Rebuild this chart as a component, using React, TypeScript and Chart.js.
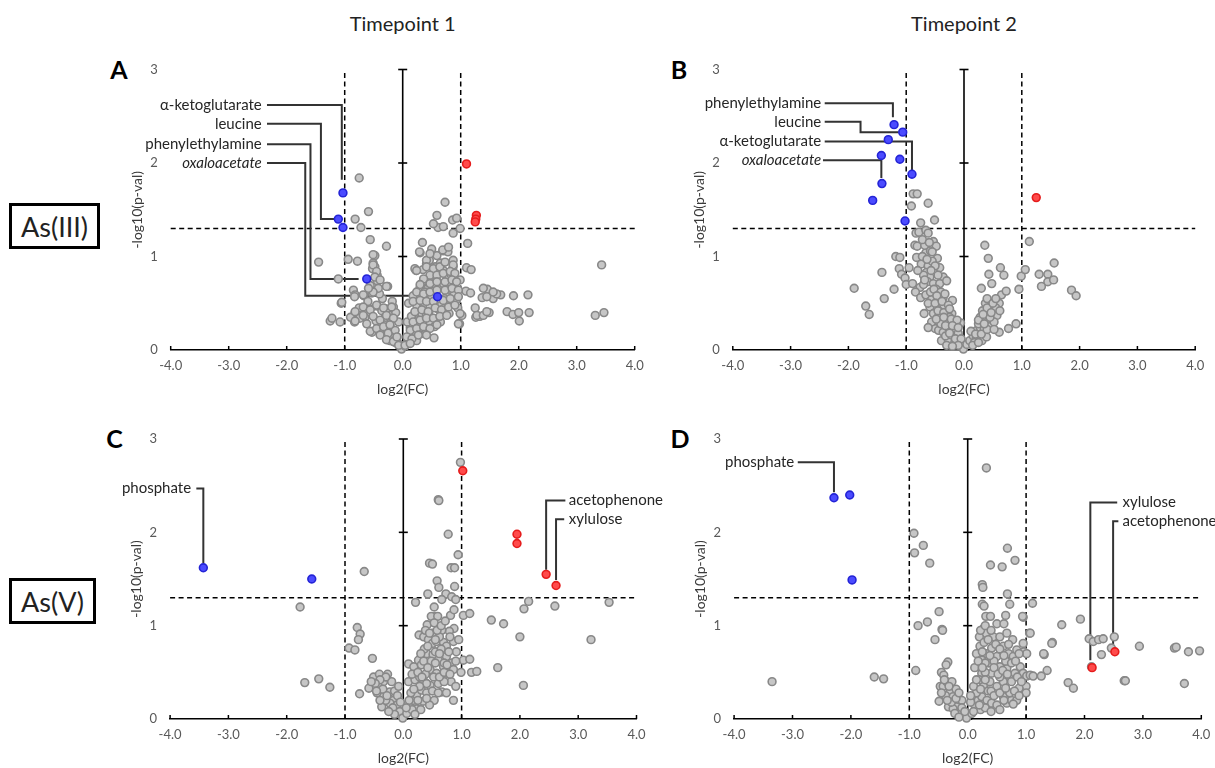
import React, { useEffect, useRef } from "react";
import { Chart, registerables } from "chart.js";

Chart.register(...registerables);

type Pt = [number, number];

const FONT = "Lato, 'Open Sans', 'DejaVu Sans', sans-serif";

// ---------------- data ----------------
const xRange: Pt = [-4, 4];
const yRange: Pt = [0, 3];
const fcCutoffs = [-1, 1];
const pCutoff = 1.3;
const centerTicks = [0, 1, 2, 3];
const xTickValues = [-4, -3, -2, -1, 0, 1, 2, 3, 4];
const xTitle = "log2(FC)";
const yTitle = "-log10(p-val)";
const timepoints = ["Timepoint 1", "Timepoint 2"];
const treatments = ["As(III)", "As(V)"];
const panelLetters = ["A", "B", "C", "D"];

const grayA: Pt[] = [
  [-0.75, 1.84], [-0.59, 1.48], [-0.82, 1.4], [-0.72, 1.31], [-0.56, 1.18], [-0.28, 1.11], [-1.45, 0.94],
  [-0.94, 0.97], [-0.78, 0.95], [-0.48, 1.01], [-0.51, 0.93], [-0.48, 0.89], [-0.46, 0.84], [-0.44, 0.8],
  [-0.52, 0.87], [-1.11, 0.76], [-0.44, 0.74], [-0.26, 0.68], [-0.56, 0.69], [-0.85, 0.64], [-0.82, 0.59],
  [-0.53, 0.61], [-0.67, 0.58], [-1.06, 0.5], [-1.25, 0.31], [-1.08, 0.3], [-0.82, 0.4], [-0.83, 0.3],
  [-0.71, 0.39], [-0.65, 0.35], [-0.53, 0.19], [-0.44, 0.47], [-0.36, 0.42], [-0.56, 0.44], [-0.28, 0.44],
  [-0.22, 0.37], [-0.16, 0.46], [-0.46, 0.31], [-0.33, 0.3], [-0.22, 0.26], [-0.39, 0.21], [-0.28, 0.15],
  [-0.16, 0.21], [-0.1, 0.14], [-0.07, 0.3], [-0.13, 0.08], [-0.22, 0.1], [-0.06, 0.06], [-0.02, 0.01],
  [0.04, 0.04], [0.1, 0.08], [0.16, 0.14], [0.24, 0.1], [0.2, 0.19], [0.3, 0.17], [0.13, 0.24], [0.24, 0.26],
  [0.33, 0.24], [0.41, 0.21], [0.54, 0.13], [0.47, 0.3], [0.59, 0.33], [0.21, 0.39], [0.33, 0.39], [0.41, 0.37],
  [0.24, 0.48], [0.36, 0.46], [0.47, 0.46], [0.61, 0.44], [0.73, 0.42], [0.8, 0.39], [0.67, 0.49], [0.8, 0.5],
  [0.87, 0.6], [0.76, 0.62], [0.67, 0.67], [0.53, 0.71], [0.41, 0.65], [0.3, 0.67], [0.27, 0.56], [0.36, 0.74],
  [0.47, 0.78], [0.59, 0.74], [0.7, 0.71], [0.84, 0.8], [0.7, 0.85], [0.56, 0.89], [0.41, 0.92], [0.46, 0.96],
  [0.59, 1.01], [0.7, 1.06], [0.3, 1.04], [0.34, 1.15], [0.23, 0.85], [0.87, 0.96], [0.87, 0.89], [0.99, 0.75],
  [0.87, 1.25], [0.61, 1.31], [0.53, 1.35], [0.59, 1.44], [0.7, 1.32], [0.73, 1.58], [0.86, 1.39], [0.93, 1.41],
  [0.99, 1.3], [1.12, 1.14], [1.1, 0.88], [1.18, 0.86], [1.09, 0.63], [1.17, 0.61], [0.93, 0.54], [1.02, 0.37],
  [0.98, 0.28], [1.25, 0.45], [1.37, 0.56], [1.46, 0.65], [1.56, 0.55], [1.69, 0.59], [1.62, 0.6], [1.26, 0.35],
  [1.33, 0.36], [1.49, 0.4], [1.8, 0.41], [1.91, 0.58], [1.9, 0.38], [2.0, 0.4], [2.01, 0.31], [2.16, 0.59],
  [2.18, 0.4], [3.43, 0.91], [3.32, 0.37], [3.47, 0.4], [-0.35, 0.55], [-0.3, 0.35], [-0.4, 0.6], [-0.6, 0.52],
  [-0.75, 0.45], [-0.9, 0.35], [-0.18, 0.52], [-0.12, 0.4], [0.08, 0.3], [0.15, 0.36], [0.28, 0.3], [0.38, 0.55],
  [0.5, 0.58], [0.62, 0.55], [0.45, 0.4], [0.55, 0.25], [0.65, 0.3], [0.72, 0.55], [0.8, 0.65], [0.9, 0.7],
  [0.95, 0.45], [0.35, 0.86], [0.5, 1.08], [0.65, 0.93], [0.78, 1.05], [0.38, 0.62], [0.18, 0.58], [0.1, 0.5],
  [-0.51, 1.02], [-0.51, 0.91], [-0.45, 0.84], [-0.48, 0.78], [-0.39, 0.75], [-0.42, 0.66], [-0.28, 0.68],
  [-0.51, 0.62], [-0.59, 0.66], [-0.68, 0.59], [-0.83, 0.57], [-1.05, 0.51], [-1.22, 0.34], [-0.82, 0.41],
  [-0.68, 0.46], [-0.56, 0.43], [-0.45, 0.48], [-0.33, 0.45], [-0.19, 0.46], [-0.74, 0.34], [-0.62, 0.28],
  [-0.51, 0.36], [-0.39, 0.32], [-0.28, 0.37], [-0.16, 0.34], [-0.56, 0.2], [-0.45, 0.23], [-0.33, 0.25],
  [-0.25, 0.18], [-0.13, 0.21], [-0.39, 0.16], [-0.28, 0.11], [-0.16, 0.09], [-0.1, 0.14], [-0.07, 0.05],
  [-0.22, 0.27], [-0.82, 0.31], [-0.68, 0.37], [0.29, 1.05], [0.41, 0.96], [0.47, 1.03], [0.69, 1.07],
  [0.79, 1.1], [0.21, 0.87], [0.24, 0.85], [0.41, 0.89], [0.53, 0.87], [0.64, 0.89], [0.73, 0.94], [0.87, 0.91],
  [0.47, 0.8], [0.59, 0.8], [0.7, 0.82], [0.82, 0.84], [0.9, 0.82], [0.36, 0.76], [0.3, 0.7], [0.47, 0.71],
  [0.59, 0.73], [0.73, 0.73], [0.85, 0.75], [0.93, 0.73], [0.24, 0.62], [0.36, 0.6], [0.47, 0.62], [0.59, 0.64],
  [0.73, 0.64], [0.85, 0.66], [0.96, 0.64], [0.18, 0.52], [0.3, 0.53], [0.41, 0.52], [0.53, 0.52], [0.7, 0.53],
  [0.82, 0.55], [0.96, 0.57], [0.21, 0.41], [0.33, 0.43], [0.44, 0.41], [0.56, 0.45], [0.67, 0.43], [0.79, 0.46],
  [0.9, 0.48], [0.18, 0.3], [0.3, 0.32], [0.41, 0.34], [0.53, 0.34], [0.64, 0.36], [0.76, 0.37], [0.13, 0.21],
  [0.24, 0.23], [0.36, 0.25], [0.47, 0.23], [0.59, 0.27], [0.07, 0.14], [0.16, 0.12], [0.27, 0.16], [0.41, 0.16],
  [0.04, 0.05], [0.13, 0.07], [1.39, 0.66], [1.45, 0.57], [1.56, 0.62], [1.28, 0.37], [1.39, 0.37], [1.45, 0.41],
  [0.99, 0.39], [0.96, 0.28],
];
const blueA: Pt[] = [[-1.03, 1.68], [-1.11, 1.4], [-1.03, 1.31], [-0.62, 0.76], [0.6, 0.57]];
const redA: Pt[] = [[1.1, 1.99], [1.27, 1.44], [1.26, 1.4], [1.25, 1.37]];

const grayB: Pt[] = [
  [-0.88, 1.67], [-0.81, 1.67], [-0.91, 1.54], [-0.62, 1.57], [-0.51, 1.39], [-0.75, 1.36], [-0.83, 1.25],
  [-0.78, 1.26], [-0.66, 1.28], [-0.62, 1.25], [-0.85, 1.12], [-0.81, 1.11], [-0.53, 1.16], [-0.48, 1.11],
  [-0.66, 1.04], [-0.58, 1.06], [-1.18, 1.0], [-1.11, 0.99], [-0.82, 0.99], [-0.46, 0.98], [-0.74, 0.92],
  [-0.62, 0.9], [-0.42, 0.88], [-1.12, 0.87], [-1.08, 0.81], [-1.42, 0.83], [-1.02, 0.77], [-1.0, 0.7],
  [-0.65, 0.83], [-0.59, 0.78], [-0.36, 0.78], [-0.89, 0.71], [-0.76, 0.67], [-0.63, 0.73], [-0.53, 0.71],
  [-0.42, 0.71], [-0.3, 0.74], [-1.9, 0.66], [-1.21, 0.65], [-0.84, 0.62], [-0.75, 0.56], [-0.66, 0.59],
  [-0.56, 0.54], [-0.44, 0.56], [-0.36, 0.56], [-0.2, 0.53], [-1.38, 0.55], [-1.7, 0.47], [-1.64, 0.38],
  [-0.69, 0.39], [-0.59, 0.46], [-0.53, 0.39], [-0.42, 0.46], [-0.3, 0.42], [-0.21, 0.39], [-0.5, 0.23],
  [-0.44, 0.21], [-0.36, 0.19], [-0.27, 0.24], [-0.18, 0.21], [-0.13, 0.14], [-0.08, 0.08], [-0.04, 0.05],
  [-0.01, 0.01], [-0.39, 0.1], [-0.27, 0.1], [-0.16, 0.08], [-0.06, 0.29], [-0.39, 0.31], [-0.3, 0.3],
  [-0.18, 0.3], [-0.13, 0.26], [-0.56, 0.3], [-0.62, 0.24], [-0.95, 0.88], [-0.7, 0.8], [-0.55, 0.95],
  [-0.48, 0.65], [-0.35, 0.48], [-0.25, 0.35], [-0.45, 0.35], [-0.7, 0.7], [-0.58, 0.62], [-0.8, 0.85],
  [-0.68, 1.12], [-0.72, 1.0], [-0.4, 0.28], [-0.32, 0.15], [-0.22, 0.16], [-0.1, 0.18],
  [-0.72, 1.18], [-0.6, 1.15], [-0.55, 1.05], [-0.64, 0.97], [-0.5, 0.9], [-0.57, 0.85], [-0.45, 0.8],
  [-0.68, 0.75], [-0.52, 0.65], [-0.4, 0.62], [-0.47, 0.58], [-0.33, 0.6], [-0.62, 0.5], [-0.5, 0.5],
  [-0.38, 0.52], [-0.27, 0.48], [-0.45, 0.42], [-0.35, 0.4], [-0.25, 0.44], [-0.48, 0.33], [-0.35, 0.35],
  [-0.22, 0.33], [-0.12, 0.32], [-0.32, 0.26], [-0.2, 0.26], [-0.1, 0.24], [-0.25, 0.18], [-0.15, 0.12],
  [-0.05, 0.12], [-0.1, 0.05], [-0.3, 0.05], [-0.2, 0.04],
  [0.05, 0.06], [0.1, 0.1], [0.16, 0.15], [0.22, 0.21], [0.28, 0.24], [0.33, 0.3], [0.31, 0.1], [0.21, 0.12],
  [0.39, 0.14], [0.28, 0.35], [0.32, 0.42], [0.37, 0.5], [0.45, 0.46], [0.51, 0.39], [0.48, 0.31], [0.57, 0.37],
  [0.61, 0.5], [0.61, 0.19], [0.36, 0.35], [0.42, 0.37], [0.65, 0.59], [0.73, 0.63], [0.3, 0.66], [0.48, 0.71],
  [0.43, 0.81], [0.36, 1.12], [0.42, 0.98], [0.63, 0.88], [0.69, 0.8], [0.77, 0.23], [0.9, 0.28], [0.95, 0.65],
  [0.99, 0.79], [1.06, 0.86], [1.13, 1.16], [1.3, 0.81], [1.34, 0.68], [1.45, 0.81], [1.45, 0.73], [1.55, 0.75],
  [1.56, 0.93], [1.86, 0.64], [1.94, 0.58], [0.12, 0.2], [0.25, 0.28], [0.18, 0.08], [0.45, 0.25], [0.52, 0.3],
  [0.55, 0.45], [0.4, 0.55], [0.35, 0.22], [0.15, 0.05], [0.25, 0.08], [0.2, 0.17], [0.3, 0.17], [0.4, 0.22],
  [0.25, 0.32], [0.35, 0.28], [0.45, 0.35], [0.4, 0.45], [0.5, 0.5], [0.55, 0.55], [0.47, 0.4], [0.62, 0.42],
  [0.33, 0.38], [0.52, 0.22],
];
const blueB: Pt[] = [
  [-1.21, 2.41], [-1.06, 2.33], [-1.31, 2.25], [-1.43, 2.08], [-1.11, 2.04], [-0.9, 1.88], [-1.42, 1.78],
  [-1.58, 1.6], [-1.02, 1.38],
];
const redB: Pt[] = [[1.25, 1.63]];

const grayC: Pt[] = [
  [0.98, 2.75], [0.6, 2.35], [0.61, 2.34], [0.77, 1.98], [0.94, 1.76], [0.45, 1.67], [0.5, 1.66], [0.82, 1.62],
  [0.88, 1.62], [-0.67, 1.58], [0.58, 1.48], [0.61, 1.41], [0.88, 1.42], [0.42, 1.34], [0.73, 1.34], [0.83, 1.31],
  [0.9, 1.28], [0.66, 1.28], [0.21, 1.25], [-1.77, 1.2], [0.53, 1.2], [0.55, 1.1], [0.48, 1.1], [0.59, 1.1],
  [0.81, 1.11], [0.87, 1.17], [1.03, 1.11], [1.14, 1.13], [1.51, 1.06], [1.72, 1.02], [2.15, 1.26], [2.07, 1.18],
  [2.6, 1.21], [3.53, 1.25], [2.0, 0.88], [3.22, 0.85], [0.41, 1.01], [0.53, 1.03], [-0.79, 0.98], [-0.74, 0.91],
  [-0.77, 0.85], [-0.93, 0.76], [-0.83, 0.74], [0.27, 0.9], [0.35, 0.88], [0.43, 0.85], [0.5, 0.81], [0.57, 0.83],
  [0.69, 0.82], [0.74, 0.78], [0.86, 0.83], [0.87, 0.97], [0.79, 0.94], [0.66, 0.95], [0.91, 0.72], [1.03, 0.63],
  [1.14, 0.64], [-0.53, 0.65], [0.26, 0.63], [0.4, 0.7], [0.51, 0.69], [0.6, 0.63], [0.74, 0.67], [0.83, 0.6],
  [0.69, 0.56], [0.09, 0.59], [0.18, 0.56], [0.31, 0.58], [0.46, 0.53], [0.57, 0.49], [0.74, 0.49], [0.86, 0.53],
  [0.99, 0.5], [1.17, 0.5], [1.26, 0.51], [1.62, 0.55], [2.06, 0.36], [-1.69, 0.39], [-1.45, 0.43], [-1.26, 0.34],
  [-0.75, 0.27], [-0.59, 0.33], [-0.51, 0.45], [-0.41, 0.48], [-0.27, 0.48], [-0.34, 0.4], [-0.43, 0.35],
  [-0.37, 0.24], [-0.23, 0.29], [-0.17, 0.2], [-0.11, 0.15], [-0.06, 0.08], [-0.01, 0.01], [-0.37, 0.13],
  [-0.23, 0.17], [0.06, 0.06], [0.11, 0.13], [0.17, 0.2], [0.23, 0.26], [0.31, 0.31], [0.4, 0.28], [0.53, 0.2],
  [0.66, 0.29], [0.86, 0.2], [0.74, 0.28], [0.09, 0.4], [0.2, 0.42], [0.34, 0.42], [0.46, 0.36], [0.6, 0.38],
  [0.23, 0.11], [0.34, 0.19], [0.13, 0.28], [0.36, 0.75], [0.45, 0.6], [0.55, 0.72], [0.65, 0.75], [0.38, 0.48],
  [0.28, 0.45], [0.15, 0.48], [0.5, 0.92], [0.62, 0.88], [0.78, 0.72], [0.82, 0.4], [0.9, 0.35], [0.7, 0.4],
  [0.45, 0.15], [0.15, 0.1], [-0.15, 0.3], [-0.3, 0.2], [-0.45, 0.28], [-0.08, 0.35],
  [0.3, 0.7], [0.35, 0.62], [0.42, 0.78], [0.48, 0.62], [0.55, 0.6], [0.62, 0.7], [0.7, 0.6], [0.38, 0.95],
  [0.45, 0.92], [0.58, 0.95], [0.65, 1.0], [0.72, 1.05], [0.42, 0.55], [0.52, 0.45], [0.62, 0.45], [0.7, 0.5],
  [0.8, 0.48], [0.25, 0.5], [0.32, 0.45], [0.4, 0.38], [0.5, 0.3], [0.6, 0.28], [0.28, 0.35], [0.18, 0.32],
  [0.25, 0.2], [0.4, 0.22], [0.3, 0.1], [0.2, 0.05], [0.1, 0.2], [0.05, 0.12], [0.8, 0.88], [0.75, 0.58],
  [0.9, 0.62], [0.95, 0.85], [0.55, 0.85], [-0.2, 0.4], [-0.3, 0.45], [-0.4, 0.42], [-0.48, 0.38], [-0.35, 0.32],
  [-0.28, 0.25], [-0.18, 0.12], [-0.1, 0.25], [-0.05, 0.18], [-0.15, 0.05], [-0.25, 0.08], [-0.4, 0.2],
  [-0.46, 0.3], [-0.55, 0.4],
];
const blueC: Pt[] = [[-3.43, 1.62], [-1.57, 1.5]];
const redC: Pt[] = [[1.02, 2.66], [1.95, 1.98], [1.95, 1.88], [2.45, 1.55], [2.62, 1.43]];

const grayD: Pt[] = [
  [0.32, 2.69], [-0.92, 1.99], [-0.91, 1.78], [-0.76, 1.86], [-0.65, 1.67], [0.68, 1.83], [0.81, 1.7], [0.39, 1.65],
  [0.59, 1.63], [0.25, 1.44], [0.26, 1.41], [0.68, 1.34], [0.72, 1.23], [0.25, 1.23], [0.28, 1.21], [1.11, 1.24],
  [-0.49, 1.15], [-0.85, 1.0], [-0.69, 1.04], [-0.44, 0.96], [-0.43, 0.95], [-0.56, 0.85], [1.61, 1.01],
  [1.93, 1.07], [1.45, 0.82], [1.31, 0.69], [1.36, 0.52], [2.08, 0.86], [2.15, 0.83], [2.24, 0.85], [2.32, 0.86],
  [2.51, 0.88], [2.46, 0.76], [2.29, 0.69], [2.94, 0.78], [3.54, 0.76], [3.57, 0.77], [3.78, 0.72], [3.97, 0.73],
  [3.71, 0.38], [2.68, 0.41], [2.7, 0.41], [1.72, 0.39], [1.81, 0.33], [-3.35, 0.4], [-1.6, 0.45], [-1.44, 0.43],
  [-0.89, 0.52], [1.06, 0.92], [0.95, 1.09], [0.31, 1.1], [0.39, 1.1], [0.5, 1.02], [0.62, 1.02], [0.65, 1.11],
  [0.94, 1.1], [0.27, 0.97], [0.31, 0.92], [0.44, 0.88], [0.55, 0.88], [0.67, 0.92], [0.77, 0.85], [0.95, 0.81],
  [1.07, 0.92], [1.44, 0.81], [0.21, 0.78], [0.15, 0.7], [0.24, 0.63], [0.33, 0.7], [0.41, 0.76], [0.5, 0.67],
  [0.61, 0.78], [0.7, 0.7], [0.78, 0.67], [0.84, 0.74], [0.9, 0.56], [0.95, 0.49], [1.01, 0.46], [1.07, 0.47],
  [1.12, 0.46], [0.96, 0.72], [1.01, 0.7], [1.26, 0.46], [1.3, 0.7], [-0.34, 0.61], [-0.37, 0.58], [-0.45, 0.5],
  [-0.41, 0.47], [-0.47, 0.35], [-0.42, 0.35], [-0.49, 0.19], [-0.3, 0.29], [-0.25, 0.24], [-0.19, 0.13],
  [-0.13, 0.08], [-0.06, 0.04], [-0.02, 0.01], [-0.33, 0.13], [-0.25, 0.11], [-0.36, 0.4], [-0.27, 0.4],
  [0.07, 0.06], [0.13, 0.13], [0.18, 0.2], [0.24, 0.24], [0.33, 0.2], [0.41, 0.17], [0.5, 0.15], [0.67, 0.17],
  [0.75, 0.2], [0.61, 0.24], [0.15, 0.28], [0.27, 0.35], [0.38, 0.4], [0.5, 0.35], [0.61, 0.4], [0.72, 0.45],
  [0.81, 0.49], [0.67, 0.54], [0.55, 0.56], [0.41, 0.49], [0.24, 0.49], [0.18, 0.56], [0.1, 0.35], [0.72, 0.28],
  [0.84, 0.2], [0.78, 0.16], [1.0, 0.35], [1.0, 0.28], [0.88, 0.33], [0.2, 0.88], [0.28, 0.82], [0.35, 0.6],
  [0.45, 0.62], [0.3, 0.5], [0.2, 0.42], [0.12, 0.55], [0.35, 0.3], [0.55, 0.45], [0.65, 0.62], [0.05, 0.18],
  [-0.1, 0.2], [-0.2, 0.32], [0.22, 0.1], [2.12, 0.56],
  [0.22, 0.95], [0.3, 1.0], [0.35, 0.85], [0.4, 0.95], [0.48, 0.8], [0.55, 0.75], [0.62, 0.68], [0.7, 0.8],
  [0.75, 0.6], [0.82, 0.62], [0.88, 0.7], [0.25, 0.72], [0.3, 0.6], [0.38, 0.68], [0.45, 0.55], [0.52, 0.48],
  [0.6, 0.52], [0.68, 0.48], [0.75, 0.4], [0.85, 0.45], [0.92, 0.4], [0.22, 0.32], [0.3, 0.42], [0.4, 0.3],
  [0.45, 0.25], [0.55, 0.28], [0.65, 0.33], [0.8, 0.3], [0.88, 0.25], [0.3, 0.12], [0.4, 0.08], [0.55, 0.1],
  [0.62, 0.2], [0.15, 0.42], [0.2, 0.15], [0.1, 0.08], [0.05, 0.25], [0.18, 0.62], [0.25, 0.55],
  [-0.4, 0.42], [-0.32, 0.35], [-0.38, 0.25], [-0.28, 0.18], [-0.2, 0.22], [-0.15, 0.28], [-0.45, 0.28],
  [-0.35, 0.2], [-0.1, 0.12], [-0.22, 0.06], [-0.15, 0.02], [-0.05, 0.08],
];
const blueD: Pt[] = [[-2.29, 2.37], [-2.02, 2.4], [-1.98, 1.49]];
const redD: Pt[] = [[2.13, 0.55], [2.52, 0.72]];

interface Ann { label: string; italic?: boolean; side: "left" | "right"; at: Pt; path: Pt[] }

const annA: Ann[] = [
  { label: "α-ketoglutarate", side: "right", at: [-2.43, 2.62], path: [[-2.34, 2.62], [-1.05, 2.62], [-1.05, 1.82]] },
  { label: "leucine", side: "right", at: [-2.43, 2.42], path: [[-2.34, 2.42], [-1.41, 2.42], [-1.41, 1.4], [-1.17, 1.4]] },
  { label: "phenylethylamine", side: "right", at: [-2.43, 2.2], path: [[-2.34, 2.2], [-1.59, 2.2], [-1.59, 0.76], [-0.76, 0.76]] },
  { label: "oxaloacetate", italic: true, side: "right", at: [-2.43, 2.0], path: [[-2.34, 2.0], [-1.68, 2.0], [-1.68, 0.58], [0.47, 0.58]] },
];
const annB: Ann[] = [
  { label: "phenylethylamine", side: "right", at: [-2.47, 2.64], path: [[-2.41, 2.64], [-1.23, 2.64], [-1.23, 2.49]] },
  { label: "leucine", side: "right", at: [-2.47, 2.44], path: [[-2.41, 2.44], [-1.79, 2.44], [-1.79, 2.33], [-1.13, 2.33]] },
  { label: "α-ketoglutarate", side: "right", at: [-2.47, 2.23], path: [[-2.41, 2.23], [-0.9, 2.23], [-0.9, 1.92]] },
  { label: "oxaloacetate", italic: true, side: "right", at: [-2.47, 2.03], path: [[-2.44, 2.03], [-1.43, 2.03], [-1.43, 1.84]] },
];
const annC: Ann[] = [
  { label: "phosphate", side: "right", at: [-3.64, 2.47], path: [[-3.55, 2.47], [-3.43, 2.47], [-3.43, 1.67]] },
  { label: "acetophenone", side: "left", at: [2.84, 2.34], path: [[2.78, 2.34], [2.45, 2.34], [2.45, 1.6]] },
  { label: "xylulose", side: "left", at: [2.84, 2.14], path: [[2.76, 2.14], [2.62, 2.14], [2.62, 1.49]] },
];
const annD: Ann[] = [
  { label: "phosphate", side: "right", at: [-2.97, 2.75], path: [[-2.91, 2.75], [-2.29, 2.75], [-2.29, 2.43]] },
  { label: "xylulose", side: "left", at: [2.65, 2.32], path: [[2.56, 2.32], [2.1, 2.32], [2.1, 0.63]] },
  { label: "acetophenone", side: "left", at: [2.65, 2.12], path: [[2.58, 2.12], [2.49, 2.12], [2.49, 0.78]] },
];

// ---------------- layout ----------------
interface Area { left: number; top: number; right: number; bottom: number }
const areas: Area[] = [
  { left: 170.7, top: 69.5, right: 634.7, bottom: 350 },
  { left: 732.8, top: 69.5, right: 1195.2, bottom: 350 },
  { left: 170.1, top: 439, right: 636.5, bottom: 719 },
  { left: 734.1, top: 439, right: 1201.3, bottom: 719 },
];
const letterPos: Pt[] = [[119, 70], [679, 70], [114.5, 438.5], [680, 438.5]];

const YW = 42;
const XH = 48;

const toXY = (pts: Pt[]) => pts.map(([x, y]) => ({ x, y }));

function VolcanoPanel({ area, gray, blue, red, anns }: { area: Area; gray: Pt[]; blue: Pt[]; red: Pt[]; anns: Ann[] }) {
  const ref = useRef<HTMLCanvasElement>(null);
  const cl = Math.floor(area.left - YW - 75);
  const ct = Math.floor(area.top - 30);
  const cr = Math.ceil(area.right + 70);
  const cb = Math.ceil(area.bottom + XH + 4);
  const pad = {
    left: area.left - YW - cl,
    top: area.top - ct,
    right: cr - area.right,
    bottom: cb - (area.bottom + XH),
  };

  useEffect(() => {
    if (!ref.current) return;
    const points = (pts: Pt[], fill: string, stroke: string, order: number) => ({
      data: toXY(pts),
      showLine: false,
      pointRadius: 3.9,
      pointHoverRadius: 3.9,
      pointBorderWidth: 1.6,
      pointBackgroundColor: fill,
      pointBorderColor: stroke,
      backgroundColor: fill,
      borderColor: stroke,
      order,
      clip: false as any,
    });
    const line = (pts: Pt[], color: string, width: number, dash: number[], order: number) => ({
      data: toXY(pts),
      showLine: true,
      borderColor: color,
      borderWidth: width,
      borderDash: dash,
      pointRadius: 0,
      pointHoverRadius: 0,
      fill: false,
      order,
      clip: false as any,
    });

    const datasets: any[] = [
      points(red, "#ff4b4b", "#e51c1c", 0),
      points(blue, "#4b4bff", "#2424d6", 1),
      points(gray, "#c6c6c6", "#888888", 2),
      ...anns.map((a) => line(a.path, "#333333", 2, [], 3)),
      {
        ...line(centerTicks.map((v) => [0, v] as Pt), "#000000", 1.6, [], 4),
        pointRadius: 4.5,
        pointStyle: "line",
        pointBorderColor: "#000000",
        pointBorderWidth: 1.6,
      },
      {
        data: toXY(xTickValues.map((v) => [v, yRange[0]] as Pt)),
        showLine: false,
        pointStyle: "dash",
        rotation: -90,
        pointRadius: 4,
        pointBorderColor: "#000000",
        pointBorderWidth: 1.5,
        order: 4,
        clip: false,
      },
      ...fcCutoffs.map((c) => line([[c, yRange[0]], [c, yRange[1]]], "#000000", 1.5, [5, 3.5], 5)),
      line([[xRange[0], pCutoff], [xRange[1], pCutoff]], "#000000", 1.5, [5, 3.5], 5),
    ];

    const textPlugin = {
      id: "annText",
      afterDatasetsDraw(chart: any) {
        const { ctx } = chart;
        const xs = chart.scales.x;
        const ys = chart.scales.y;
        ctx.save();
        ctx.fillStyle = "#262626";
        ctx.textBaseline = "middle";
        anns.forEach((a) => {
          ctx.font = `${a.italic ? "italic " : ""}15px ${FONT}`;
          ctx.textAlign = a.side;
          ctx.fillText(a.label, xs.getPixelForValue(a.at[0]), ys.getPixelForValue(a.at[1]));
        });
        ctx.restore();
      },
    };

    const chart = new Chart(ref.current, {
      type: "scatter",
      data: { datasets },
      options: {
        animation: false,
        responsive: true,
        maintainAspectRatio: false,
        events: [],
        layout: { padding: pad },
        plugins: { legend: { display: false }, tooltip: { enabled: false } },
        scales: {
          x: {
            type: "linear",
            min: xRange[0],
            max: xRange[1],
            afterFit: (s: any) => { s.height = XH; },
            grid: { display: false, drawTicks: false },
            border: { display: true, color: "#000000", width: 1.6 },
            ticks: {
              stepSize: 1,
              autoSkip: false,
              maxRotation: 0,
              padding: 8,
              color: "#595959",
              font: { family: FONT, size: 13 },
              callback: (v: any) => Number(v).toFixed(1),
            },
            title: { display: true, text: xTitle, color: "#3a3a3a", font: { family: FONT, size: 14 }, padding: 0 },
          },
          y: {
            type: "linear",
            min: yRange[0],
            max: yRange[1],
            afterFit: (s: any) => { s.width = YW; },
            grid: { display: false, drawTicks: false },
            border: { display: false },
            ticks: {
              stepSize: 1,
              padding: 13,
              color: "#595959",
              font: { family: FONT, size: 13 },
              callback: (v: any) => String(v),
            },
            title: { display: true, text: yTitle, color: "#3a3a3a", font: { family: FONT, size: 14 }, padding: 0 },
          },
        },
      } as any,
      plugins: [textPlugin],
    });
    return () => chart.destroy();
  }, []);

  return (
    <div style={{ position: "absolute", left: cl, top: ct, width: cr - cl, height: cb - ct }}>
      <canvas ref={ref} />
    </div>
  );
}

export default function App() {
  const panels = [
    { gray: grayA, blue: blueA, red: redA, anns: annA },
    { gray: grayB, blue: blueB, red: redB, anns: annB },
    { gray: grayC, blue: blueC, red: redC, anns: annC },
    { gray: grayD, blue: blueD, red: redD, anns: annD },
  ];
  return (
    <div
      style={{
        position: "absolute",
        left: 0,
        top: 0,
        width: 1215,
        height: 768,
        overflow: "hidden",
        background: "#ffffff",
        fontFamily: FONT,
      }}
    >
      {timepoints.map((t, i) => (
        <div
          key={t}
          style={{
            position: "absolute",
            left: (areas[i].left + areas[i].right) / 2 - 100,
            top: 11,
            width: 200,
            textAlign: "center",
            fontSize: 20,
            lineHeight: "24px",
            color: "#222222",
          }}
        >
          {t}
        </div>
      ))}
      {treatments.map((t, i) => (
        <div
          key={t}
          style={{
            position: "absolute",
            left: 9,
            top: i === 0 ? 203 : 578,
            width: i === 0 ? 91 : 87,
            height: 46,
            boxSizing: "border-box",
            border: "3px solid #000",
            display: "flex",
            alignItems: "center",
            justifyContent: "center",
            fontSize: 27,
            color: "#222222",
          }}
        >
          {t}
        </div>
      ))}
      {panelLetters.map((l, i) => (
        <div
          key={l}
          style={{
            position: "absolute",
            left: letterPos[i][0] - 20,
            top: letterPos[i][1] - 15.7,
            width: 40,
            textAlign: "center",
            fontSize: 25,
            fontWeight: 700,
            lineHeight: "30px",
            color: "#000",
          }}
        >
          {l}
        </div>
      ))}
      {panels.map((p, i) => (
        <VolcanoPanel key={i} area={areas[i]} {...p} />
      ))}
    </div>
  );
}
